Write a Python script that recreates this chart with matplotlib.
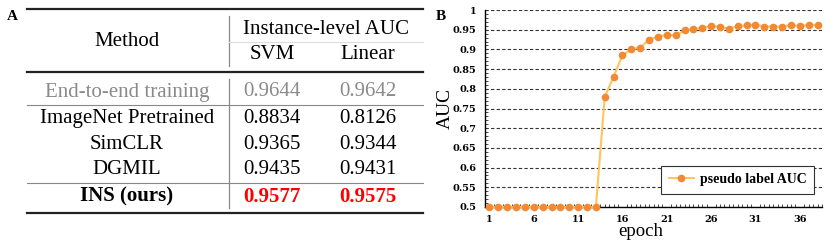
import numpy as np
import matplotlib
matplotlib.use("Agg")
import matplotlib.pyplot as plt
from matplotlib.ticker import MultipleLocator

# table data
methods = ["End-to-end training", "ImageNet Pretrained", "SimCLR", "DGMIL", "INS (ours)"]
svm_auc = ["0.9644", "0.8834", "0.9365", "0.9435", "0.9577"]
linear_auc = ["0.9642", "0.8126", "0.9344", "0.9431", "0.9575"]

# curve data (pseudo label AUC per epoch)
epochs = list(range(1, 39))
pseudo_auc = [0.5] * 13 + [0.779, 0.831, 0.885, 0.901, 0.904, 0.925, 0.932, 0.937,
                           0.936, 0.948, 0.951, 0.955, 0.959, 0.958, 0.952, 0.959,
                           0.961, 0.963, 0.958, 0.958, 0.958, 0.962, 0.959, 0.962, 0.962]
xtick_labels = ["1", "6", "11", "16", "21", "26", "31", "36"]
ytick_vals = [0.5, 0.55, 0.6, 0.65, 0.7, 0.75, 0.8, 0.85, 0.9, 0.95, 1.0]
ytick_labels = ["0.5", "0.55", "0.6", "0.65", "0.7", "0.75", "0.8", "0.85", "0.9", "0.95", "1"]

serif = "Liberation Serif"
fig = plt.figure(figsize=(8.3, 2.41), dpi=100)

# ---- panel A: table drawn in pixel coords ----
ax_t = fig.add_axes([0, 0, 1, 1])
ax_t.set_xlim(0, 830)
ax_t.set_ylim(241, 0)
ax_t.axis("off")

fs = 15
ax_t.text(12, 17, "A", fontsize=11, fontweight="bold", family=serif, ha="center", va="center")
ax_t.plot([27, 423], [9, 9], color="#222222", lw=1.6)
ax_t.plot([229, 229], [16, 66], color="#888888", lw=0.9)
ax_t.plot([229, 423], [41.5, 41.5], color="#dddddd", lw=0.8)
ax_t.text(127, 46.5, "Method", fontsize=fs, family=serif, ha="center", va="baseline")
ax_t.text(326, 34, "Instance-level AUC", fontsize=fs, family=serif, ha="center", va="baseline")
ax_t.text(272, 59, "SVM", fontsize=fs, family=serif, ha="center", va="baseline")
ax_t.text(368, 59, "Linear", fontsize=fs, family=serif, ha="center", va="baseline")
ax_t.plot([27, 423], [71.5, 71.5], color="#222222", lw=1.6)
ax_t.plot([229, 229], [79, 208], color="#888888", lw=0.9)
ax_t.plot([27, 423], [105, 105], color="#888888", lw=0.8)
ax_t.plot([27, 423], [183, 183], color="#888888", lw=0.8)
ax_t.plot([27, 423], [213.3, 213.3], color="#222222", lw=1.6)

row_y = [96.5, 123, 149, 174, 201.5]
for i, (m, s, l) in enumerate(zip(methods, svm_auc, linear_auc)):
    col, wt, vcol = "black", "normal", "black"
    if i == 0:
        col, vcol = "#8a8a8a", "#8a8a8a"
    if i == len(methods) - 1:
        wt, vcol = "bold", "#ff0000"
    ax_t.text(127, row_y[i], m, fontsize=fs, family=serif, color=col, fontweight=wt,
              ha="center", va="baseline")
    ax_t.text(272, row_y[i], s, fontsize=fs, family=serif, color=vcol, fontweight=wt,
              ha="center", va="baseline")
    ax_t.text(368, row_y[i], l, fontsize=fs, family=serif, color=vcol, fontweight=wt,
              ha="center", va="baseline")

ax_t.text(441, 17, "B", fontsize=11, fontweight="bold", family=serif, ha="center", va="center")

# ---- panel B: pseudo label AUC curve ----
ax = fig.add_axes([485 / 830, 1 - 207 / 241, 337 / 830, 197 / 241])
ax.plot(epochs, pseudo_auc, color="#ffc45c", lw=1.5, marker="o", markersize=4.5,
        markerfacecolor="#f28a34", markeredgecolor="#f28a34", label="pseudo label AUC",
        zorder=3, clip_on=False)
ax.set_xlim(0.5, 38.5)
ax.set_ylim(0.5, 1.0)
ax.set_yticks(ytick_vals)
ax.set_yticklabels(ytick_labels)
ax.yaxis.set_minor_locator(MultipleLocator(0.01))
ax.set_xticks(range(1, 39, 5))
ax.set_xticklabels(xtick_labels)
ax.xaxis.set_minor_locator(MultipleLocator(0.5))
ax.grid(axis="y", which="major", color="#333333", ls=(0, (3, 2)), lw=0.8)
ax.set_axisbelow(True)
for s in ["top", "right"]:
    ax.spines[s].set_visible(False)
ax.spines["left"].set_linewidth(1.0)
ax.spines["bottom"].set_linewidth(1.0)
ax.tick_params(axis="both", which="major", direction="in", length=0, labelsize=7)
ax.tick_params(axis="y", which="major", pad=6)
ax.tick_params(axis="x", which="major", pad=6)
ax.tick_params(axis="both", which="minor", direction="in", length=2, width=0.5)
for lab in ax.get_xticklabels() + ax.get_yticklabels():
    lab.set_fontweight("bold")
    lab.set_family("DejaVu Serif")
ax.set_ylabel("AUC", fontsize=14, family=serif)
ax.yaxis.set_label_coords(-31 / 337, 0.5)
ax.set_xlabel("epoch", fontsize=13.5, family=serif, va="baseline")
ax.xaxis.set_label_coords(0.463, -28.7 / 197)
leg = ax.legend(loc="lower right", bbox_to_anchor=(0.976, 0.066), borderaxespad=0,
                fancybox=False, edgecolor="#333333", framealpha=1,
                prop={"family": serif, "weight": "bold", "size": 10},
                handlelength=1.8, handletextpad=0.4, borderpad=0.55)
leg.get_frame().set_linewidth(0.8)

fig.savefig("out.png", dpi=100)
